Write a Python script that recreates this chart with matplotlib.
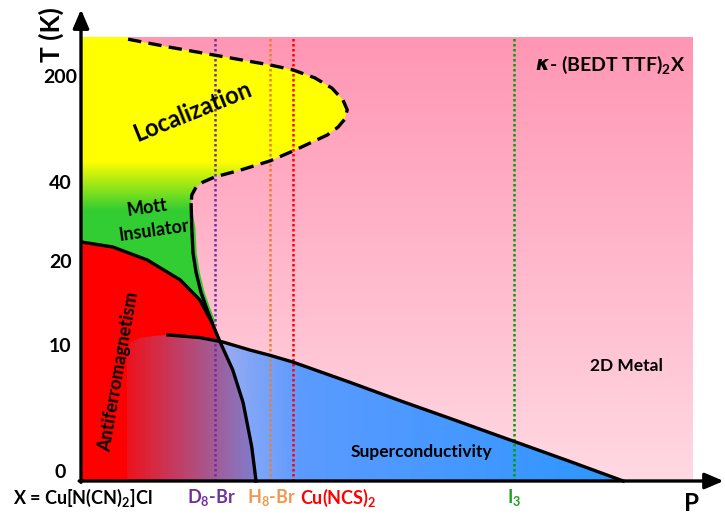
import numpy as np
import matplotlib.pyplot as plt
from matplotlib.patches import Polygon

plt.rcParams['font.family'] = ['Lato', 'DejaVu Sans']
plt.rcParams['font.weight'] = 'bold'
plt.rcParams['mathtext.fontset'] = 'custom'
plt.rcParams['mathtext.rm'] = 'Lato:bold'
plt.rcParams['mathtext.bf'] = 'Lato:bold'
plt.rcParams['mathtext.it'] = 'Lato:bold:italic'
plt.rcParams['mathtext.default'] = 'bf'

# Schematic phase diagram: pressure P (arb. units) vs. T on a stretched scale
# localization crossover (dashed)
loc_P = [0.77, 1.45, 2.19, 3.09, 3.46, 3.82, 4.10, 4.28, 4.35, 4.31, 4.20, 4.02,
         3.74, 3.46, 3.09, 2.60, 2.19, 1.99, 1.88, 1.81, 1.80]
loc_T = [9.95, 9.77, 9.59, 9.37, 9.26, 9.08, 8.85, 8.58, 8.36, 8.15, 7.97, 7.79,
         7.61, 7.43, 7.21, 7.00, 6.85, 6.73, 6.62, 6.44, 6.22]

# Mott transition line
mott_P = [1.80, 1.81, 1.83, 1.88, 1.96, 2.05, 2.14, 2.27, 2.48, 2.65, 2.79, 2.86]
mott_T = [6.22, 5.70, 5.14, 4.70, 4.25, 3.90, 3.57, 3.14, 2.50, 1.76, 0.77, 0.00]

# antiferromagnetic dome (meets the Mott line)
af_P = [0.02, 0.52, 1.08, 1.62, 1.94, 2.14]
af_T = [5.38, 5.27, 4.98, 4.53, 4.08, 3.57]

# superconducting Tc line
sc_P = [1.42, 1.94, 2.32, 2.76, 3.09, 3.46, 4.40, 5.21, 6.03, 7.06, 7.99, 8.86]
sc_T = [3.29, 3.23, 3.13, 2.95, 2.83, 2.68, 2.22, 1.81, 1.41, 0.90, 0.44, 0.00]
# rounded left end of the superconducting region (under the AF phase)
sc_left_P = [0.75, 0.75, 0.80, 0.96, 1.21]
sc_left_T = [0.00, 2.91, 3.11, 3.22, 3.27]

# ambient-pressure positions of the salts
salts = ['D$_8$-Br', 'H$_8$-Br', 'Cu(NCS)$_2$', 'I$_3$']
salt_P = [2.19, 3.09, 3.46, 7.08]
salt_line_colors = ['#7030A0', '#ED7D31', '#FF0000', '#00A000']
salt_text_colors = ['#7030A0', '#F4974F', '#FF0000', '#1FA01F']
salt_text_P = [2.14, 3.11, 4.20, 7.08]

t_tick_pos = [0.2, 3.02, 4.93, 6.69, 9.08]
t_tick_labels = ['0', '10', '20', '40', '200']

P_MAX, T_MAX = 10.0, 10.0


def gradient_fill(ax, xs, ys, rgba, extent, z, vertical=True):
    patch = Polygon(np.column_stack([xs, ys]), closed=True, fc='none', ec='none')
    ax.add_patch(patch)
    img = rgba[:, None, :] if vertical else rgba[None, :, :]
    im = ax.imshow(img, extent=extent, origin='lower', aspect='auto',
                   interpolation='bilinear', zorder=z)
    im.set_clip_path(patch)


fig = plt.figure(figsize=(7.25, 5.16), dpi=100)
ax = fig.add_axes([0, 0, 1, 1])
ax.axis('off')

# 2D metal background, darker pink at the top
n = 300
t = np.linspace(0, 1, n)[:, None]
bottom = np.array([255, 217, 227]) / 255
top = np.array([255, 150, 180]) / 255
pink = np.hstack([bottom + (top - bottom) * t, np.ones((n, 1))])
gradient_fill(ax, [0.02, P_MAX, P_MAX, 0.02], [0, 0, T_MAX, T_MAX], pink,
              (0.02, P_MAX, 0, T_MAX), 1)

# insulating region: yellow (localization) fading into green (Mott insulator)
ins_P = [0.02, 0.77] + loc_P + [p + 0.06 for p in mott_P[1:7]] + af_P[::-1]
ins_T = [T_MAX, T_MAX] + loc_T + mott_T[1:7] + af_T[::-1]
hh = np.linspace(0, T_MAX, 400)
f = np.clip((hh - 6.1) / (7.2 - 6.1), 0, 1)[:, None]
green = np.array([50, 205, 50]) / 255
yellow = np.array([255, 255, 0]) / 255
ins = np.hstack([green * (1 - f) + yellow * f, np.ones((400, 1))])
gradient_fill(ax, ins_P, ins_T, ins, (0, P_MAX, 0, T_MAX), 2)

# antiferromagnetic region
afr_P = af_P + mott_P[6:] + [0.02]
afr_T = af_T + mott_T[6:] + [0.0]
ax.add_patch(Polygon(np.column_stack([afr_P, afr_T]), closed=True,
                     fc='#FF0000', ec='none', zorder=3))

# superconducting region, semi-transparent blue over the AF phase
scr_P = sc_left_P + sc_P
scr_T = sc_left_T + sc_T
pp = np.linspace(0.75, 8.9, 500)
alpha = np.interp(pp, [0.75, 2.8, 3.6, 8.9], [0.12, 0.8, 1.0, 1.0])
r = np.interp(pp, [0.75, 3.2, 8.9], [100, 95, 45]) / 255
g = np.interp(pp, [0.75, 3.2, 8.9], [160, 155, 150]) / 255
b = np.full_like(pp, 1.0)
sc_img = np.column_stack([r, g, b, alpha])
gradient_fill(ax, scr_P, scr_T, sc_img, (0.75, 8.9, 0, T_MAX), 4, vertical=False)

# phase boundaries
ax.plot(loc_P, loc_T, color='black', lw=2.4, ls=(0, (4, 2.2)), zorder=6,
        solid_capstyle='butt')
ax.plot(mott_P, mott_T, color='black', lw=2.4, zorder=6)
ax.plot(af_P, af_T, color='black', lw=2.4, zorder=6)
ax.plot(sc_P, sc_T, color='black', lw=2.4, zorder=6)

# vertical dotted lines for each salt
for p, c in zip(salt_P, salt_line_colors):
    ax.plot([p, p], [0, T_MAX], color=c, lw=1.8, ls=(0, (1, 1)), zorder=5)

# axes with arrow heads
arrow = dict(arrowstyle='-|>,head_length=0.7,head_width=0.3', lw=2.4,
             color='black', shrinkA=0, shrinkB=0, mutation_scale=16)
ax.annotate('', xy=(0, 10.62), xytext=(0, -0.03), arrowprops=arrow, zorder=7)
ax.annotate('', xy=(10.5, 0), xytext=(-0.03, 0), arrowprops=arrow, zorder=7)

for pos, lab in zip(t_tick_pos, t_tick_labels):
    ax.text(-0.34, pos, lab, ha='center', va='center', fontsize=14)
ax.text(-0.49, 10.05, 'T (K)', rotation=90, ha='center', va='center', fontsize=19)
ax.text(9.98, -0.5, 'P', ha='center', va='center', fontsize=17.5)

ax.text(0.02, -0.38, 'X = Cu[N(CN)$_2$]Cl', ha='center', va='center', fontsize=13)
for lab, p, c in zip(salts, salt_text_P, salt_text_colors):
    ax.text(p, -0.38, lab, ha='center', va='center', fontsize=13, color=c)

# region labels
ax.text(1.83, 8.31, 'Localization', rotation=22, ha='center', va='center',
        fontsize=17, zorder=8)
ax.text(1.08, 6.15, 'Mott', rotation=8, ha='center', va='center', fontsize=13, zorder=8)
ax.text(1.19, 5.65, 'Insulator', rotation=8, ha='center', va='center',
        fontsize=13, zorder=8)
ax.text(0.62, 2.45, 'Antiferromagnetism', rotation=80, ha='center', va='center',
        fontsize=13, zorder=8)
ax.text(5.57, 0.65, 'Superconductivity', ha='center', va='center', fontsize=12.5, zorder=8)
ax.text(8.92, 2.59, '2D Metal', ha='center', va='center', fontsize=12.5, zorder=8)

kappa = ax.text(7.42, 9.37, 'κ', ha='left', va='center', fontsize=14,
                style='italic', family='DejaVu Sans', zorder=8)
ax.annotate('- (BEDT TTF)$_2$X', xy=(1, 0.5), xycoords=kappa, ha='left',
            va='center', fontsize=14, zorder=8)

ax.set_xlim(-81 / 61.2, (725 - 81) / 61.2)
ax.set_ylim((481 - 516) / 44.4, 481 / 44.4)

fig.savefig('out.png', dpi=100)
